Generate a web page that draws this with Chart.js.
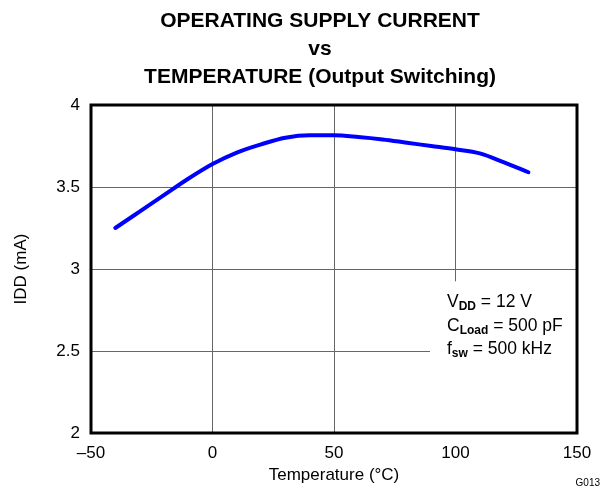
<!DOCTYPE html>
<html>
<head>
<meta charset="utf-8">
<script src="https://cdn.jsdelivr.net/npm/chart.js@4.4.1/dist/chart.umd.min.js"></script>
<style>
  html, body { margin: 0; padding: 0; background: #fff; }
  #wrap { width: 602px; height: 487px; position: relative; }
</style>
</head>
<body>
<div id="wrap"><canvas id="grafik"></canvas></div>
<script>
// data
const suhu = [-40, -30, -20, -10, 0, 10, 20, 30, 40, 50, 60, 70, 80, 90, 100, 110, 120, 130];
const arusIDD = [3.25, 3.35, 3.45, 3.55, 3.64, 3.71, 3.76, 3.80, 3.815, 3.815, 3.805, 3.79, 3.77, 3.75, 3.73, 3.705, 3.65, 3.59];

const labelX = ['\u201350', '0', '50', '100', '150'];
const tickX = [-50, 0, 50, 100, 150];
const labelY = ['2', '2.5', '3', '3.5', '4'];
const tickY = [2, 2.5, 3, 3.5, 4];

const judul = ['OPERATING SUPPLY CURRENT', 'vs', 'TEMPERATURE (Output Switching)'];
const fontDasar = '"Liberation Sans", Arial, Helvetica, sans-serif';

// kotak keterangan kondisi uji (dalam satuan data), menutupi grid di belakangnya
const kotakKet = { xMin: 89.5, xMax: 150, yMin: 2, yMax: 2.925 };

const pluginKustom = {
    id: 'pluginKustom',
    beforeDatasetsDraw(chart) {
        const ctx = chart.ctx;
        const sx = chart.scales.x, sy = chart.scales.y;
        let x1 = sx.getPixelForValue(kotakKet.xMin), x2 = sx.getPixelForValue(kotakKet.xMax);
        let y1 = sy.getPixelForValue(kotakKet.yMax), y2 = sy.getPixelForValue(kotakKet.yMin);
        ctx.save();
        ctx.fillStyle = '#fff';
        ctx.fillRect(x1, y1, x2 - x1, y2 - y1);
        ctx.restore();
    },
    afterDraw(chart) {
        const ctx = chart.ctx;
        const a = chart.chartArea;
        ctx.save();
        // bingkai plot
        ctx.strokeStyle = '#000';
        ctx.lineWidth = 3;
        ctx.strokeRect(a.left, a.top, a.right - a.left, a.bottom - a.top);

        // judul
        ctx.fillStyle = '#000';
        ctx.textAlign = 'center';
        ctx.textBaseline = 'alphabetic';
        ctx.font = 'bold 21px ' + fontDasar;
        judul.forEach((t, i) => ctx.fillText(t, 320, 27 + i * 28));

        // keterangan
        ctx.textAlign = 'left';
        let baris = [['V', 'DD', ' = 12 V'], ['C', 'Load', ' = 500 pF'], ['f', 'sw', ' = 500 kHz']];
        baris.forEach((b, i) => {
            let x = 447, y = 307 + i * 23.5;
            ctx.font = '17.5px ' + fontDasar;
            ctx.fillText(b[0], x, y);
            x += ctx.measureText(b[0]).width;
            ctx.font = 'bold 12px ' + fontDasar;
            ctx.fillText(b[1], x, y + 3);
            x += ctx.measureText(b[1]).width;
            ctx.font = '17.5px ' + fontDasar;
            ctx.fillText(b[2], x, y);
        });

        ctx.font = '10px ' + fontDasar;
        ctx.textAlign = 'right';
        ctx.fillText('G013', 600, 486);
        ctx.restore();
    }
};

const chartArus = new Chart(document.getElementById('grafik').getContext('2d'), {
    type: 'line',
    data: {
        datasets: [{
            data: suhu.map((t, i) => ({ x: t, y: arusIDD[i] })),
            borderColor: '#0000ff',
            borderWidth: 4,
            borderCapStyle: 'round',
            fill: false,
            tension: 0.4,
            cubicInterpolationMode: 'monotone',
            pointRadius: 0
        }]
    },
    options: {
        responsive: true, maintainAspectRatio: false,
        animation: false,
        events: [],
        layout: { padding: { top: 105, right: 25, left: 0, bottom: 0 } },
        plugins: { legend: { display: false }, tooltip: { enabled: false }, title: { display: false } },
        scales: {
            x: {
                type: 'linear', min: -50, max: 150,
                afterFit(s) { s.height = 54; },
                afterBuildTicks(s) { s.ticks = tickX.map(v => ({ value: v })); },
                grid: { color: '#666', lineWidth: 1, drawTicks: false },
                border: { display: false },
                ticks: {
                    padding: 10, color: '#000', maxRotation: 0, autoSkip: false,
                    font: { family: fontDasar, size: 17 },
                    callback: (v) => labelX[tickX.indexOf(v)]
                },
                title: {
                    display: true, text: 'Temperature (\u00b0C)', color: '#000',
                    font: { family: fontDasar, size: 17 },
                    padding: { top: 1, bottom: 1 }
                }
            },
            y: {
                min: 2, max: 4,
                afterFit(s) { s.width = 91; },
                afterBuildTicks(s) { s.ticks = tickY.map(v => ({ value: v })); },
                grid: { color: '#666', lineWidth: 1, drawTicks: false },
                border: { display: false },
                ticks: {
                    padding: 11, color: '#000',
                    font: { family: fontDasar, size: 17 },
                    callback: (v) => labelY[tickY.indexOf(v)]
                },
                title: {
                    display: true, text: 'IDD (mA)', color: '#000',
                    font: { family: fontDasar, size: 17 },
                    padding: { top: 11, bottom: 0 }
                }
            }
        }
    },
    plugins: [pluginKustom]
});
</script>
</body>
</html>
